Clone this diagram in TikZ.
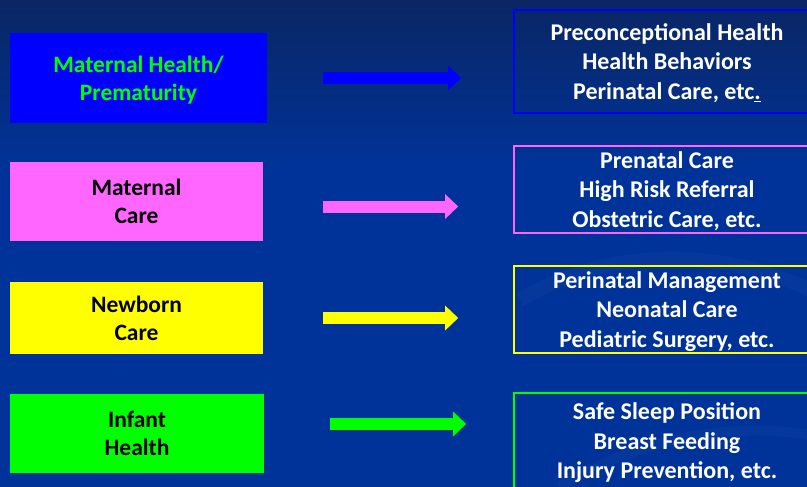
\documentclass[tikz,border=0pt]{standalone}
\usepackage{fontspec}
\setmainfont{Carlito}
\usetikzlibrary{arrows.meta}

\definecolor{bgtop}{RGB}{10,38,100}
\definecolor{bgblue}{RGB}{0,51,153}
\definecolor{boxblue}{RGB}{0,0,255}
\definecolor{boxpink}{RGB}{255,102,255}
\definecolor{boxyellow}{RGB}{255,255,0}
\definecolor{boxgreen}{RGB}{0,255,0}

\begin{document}
\begin{tikzpicture}[x=1pt, y=-1pt,
      stage/.style={rectangle, inner sep=0pt, text depth=0pt, align=center, font=\fontsize{23.5}{28}\selectfont\bfseries},
      topic/.style={rectangle, draw, line width=1.6pt, inner sep=0pt, text depth=0pt, minimum width=306pt, align=center, text=white, font=\fontsize{24}{29.5}\selectfont\bfseries},
      flow/.style={line width=12pt, -{Triangle[length=13pt, width=24pt]}}]
      \useasboundingbox (0,0) rectangle (807,487);
      \fill[bgblue] (0,0) rectangle (807,487);
      \shade[top color=bgtop, bottom color=bgblue] (0,0) rectangle (807,170);
      \draw[white, opacity=0.025, line width=14pt] (520,300) .. controls (620,240) and (740,250) .. (830,300);
      \draw[white, opacity=0.025, line width=10pt] (560,487) .. controls (650,430) and (760,420) .. (830,440);
      \node[stage, fill=boxblue, text=boxgreen, minimum width=257pt, minimum height=90pt](mh) at (138.5, 78){Maternal Health/\\Prematurity};
      \node[stage, fill=boxpink, minimum width=253pt, minimum height=79pt](mc) at (136.5, 201.5){Maternal\\Care};
      \node[stage, fill=boxyellow, minimum width=253pt, minimum height=72pt](nc) at (136.5, 318){Newborn\\Care};
      \node[stage, fill=boxgreen, minimum width=254pt, minimum height=79pt](ih) at (137, 433.5){Infant\\Health};
      \node[topic, draw=boxblue, minimum height=103pt](pre) at (667, 61.5){Preconceptional Health\\Health Behaviors\\Perinatal Care, etc\underline{.}};
      \node[topic, draw=boxpink, minimum height=87pt](pn) at (667, 189.5){Prenatal Care\\High Risk Referral\\Obstetric Care, etc.};
      \node[topic, draw=boxyellow, minimum height=87pt](peri) at (667, 309.5){Perinatal Management\\Neonatal Care\\Pediatric Surgery, etc.};
      \node[topic, draw=boxgreen, minimum height=96pt](safe) at (667, 441){Safe Sleep Position\\Breast Feeding\\Injury Prevention, etc.};
      \draw[flow, boxblue, shorten <=56pt, shorten >=52pt] (mh.east) -- (mh.east -| pre.west);
      \draw[flow, boxpink, shorten <=60pt, shorten >=55pt] ([yshift=-5pt]mc.east) -- ([yshift=-5pt]mc.east -| pn.west);
      \draw[flow, boxyellow, shorten <=60pt, shorten >=55pt] (nc.east) -- (nc.east -| peri.west);
      \draw[flow, boxgreen, shorten <=66pt, shorten >=47pt] ([yshift=9.5pt]ih.east) -- ([yshift=9.5pt]ih.east -| safe.west);
    \end{tikzpicture}
\end{document}
